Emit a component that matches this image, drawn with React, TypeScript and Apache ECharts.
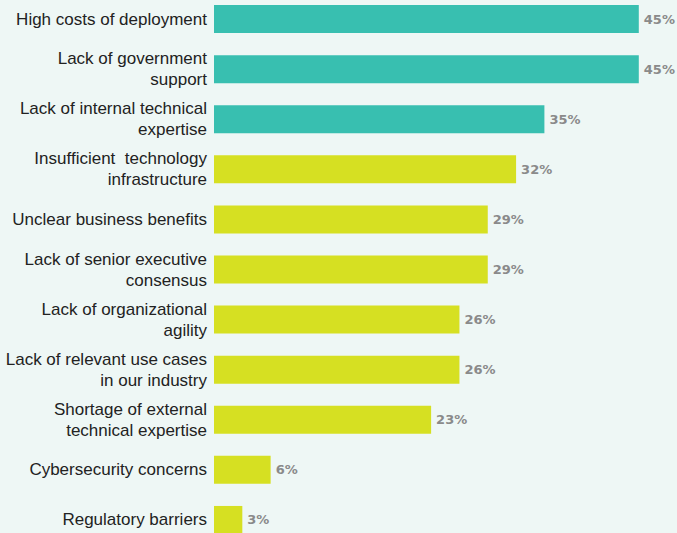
import React, { useEffect, useRef } from "react";
import * as echarts from "echarts";

const categories = [
  "High costs of deployment",
  "Lack of government\nsupport",
  "Lack of internal technical\nexpertise",
  "Insufficient  technology\ninfrastructure",
  "Unclear business benefits",
  "Lack of senior executive\nconsensus",
  "Lack of organizational\nagility",
  "Lack of relevant use cases\nin our industry",
  "Shortage of external\ntechnical expertise",
  "Cybersecurity concerns",
  "Regulatory barriers",
];
const values = [45, 45, 35, 32, 29, 29, 26, 26, 23, 6, 3];
const highlightCount = 3;

const TEAL = "#38bfb0";
const LIME = "#d6e022";

export default function App() {
  const ref = useRef<HTMLDivElement>(null);
  useEffect(() => {
    if (!ref.current) return;
    const chart = echarts.init(ref.current, undefined, { renderer: "svg" });
    chart.setOption({
      animation: false,
      backgroundColor: "#eef7f5",
      grid: { left: 214, top: 0, width: 472, height: 551, containLabel: false },
      xAxis: {
        type: "value",
        min: 0,
        max: 50,
        show: false,
      },
      yAxis: {
        type: "category",
        inverse: true,
        data: categories,
        axisLine: { show: false },
        axisTick: { show: false },
        axisLabel: {
          margin: 7,
          fontFamily: "Liberation Sans, Arial, sans-serif",
          fontSize: 17,
          color: "#222222",
          lineHeight: 21,
          align: "right",
        },
      },
      series: [
        {
          type: "bar",
          barWidth: 28,
          data: values.map((v, i) => ({
            value: v,
            itemStyle: { color: i < highlightCount ? TEAL : LIME },
          })),
          label: {
            show: true,
            position: "right",
            distance: 5,
            formatter: "{c}%",
            fontFamily: "DejaVu Sans, sans-serif",
            fontWeight: "bold",
            fontSize: 13,
            color: "#8a8a8a",
          },
        },
      ],
    });
    return () => chart.dispose();
  }, []);
  return (
    <div
      style={{
        position: "fixed",
        left: 0,
        top: 0,
        width: 677,
        height: 533,
        overflow: "hidden",
        background: "#eef7f5",
      }}
    >
      <div
        ref={ref}
        style={{ position: "absolute", left: 0, top: -6, width: 720, height: 551 }}
      />
    </div>
  );
}
